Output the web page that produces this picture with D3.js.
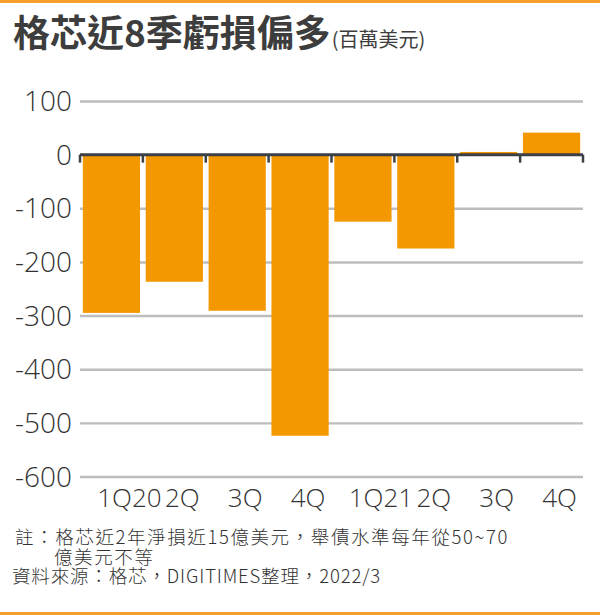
<!DOCTYPE html>
<html lang="zh-Hant">

<head>
    <meta charset="UTF-8">
    <title>格芯近8季虧損偏多</title>
    <script src="https://d3js.org/d3.v7.min.js"></script>
    <style>
        body { margin: 0; background: #fff; }
        svg { display: block; }
        .num { font-family: "Open Sans", Roboto, "Liberation Sans", sans-serif; font-weight: 300; fill: #333; }
        .cjk { font-family: "Noto Sans CJK TC", "Noto Sans", sans-serif; }
    </style>
</head>

<body>
    <div id="chart"></div>

    <script>
        // quarters and net income (million USD)
        const quarters = ["1Q20", "2Q", "3Q", "4Q", "1Q21", "2Q", "3Q", "4Q"];
        const netIncome = [-295, -237, -291, -524, -125, -175, 5, 41];
        const yTicks = [100, 0, -100, -200, -300, -400, -500, -600];
        const noteLines = [
            "註：格芯近2年淨損近15億美元，舉債水準每年從50~70",
            "億美元不等",
            "資料來源：格芯，DIGITIMES整理，2022/3"
        ];

        const W = 600, H = 615;
        const orange = "#f39800";

        const svg = d3.select("#chart").append("svg")
            .attr("width", W)
            .attr("height", H);

        // orange rules top and bottom
        svg.append("rect").attr("x", 0).attr("y", 0).attr("width", W).attr("height", 3).attr("fill", "#f5a02c");
        svg.append("rect").attr("x", 0).attr("y", 612).attr("width", W).attr("height", 3).attr("fill", "#f5a02c");

        // title
        const title = svg.append("text")
            .attr("class", "cjk")
            .attr("x", 13)
            .attr("y", 47)
            .attr("fill", "#3d3d3d");
        title.append("tspan")
            .attr("font-size", 37)
            .attr("font-weight", 700)
            .text("格芯近8季虧損偏多");
        title.append("tspan")
            .attr("font-size", 20)
            .attr("font-weight", 400)
            .attr("dx", 1)
            .text("(百萬美元)");

        const x = d3.scaleBand()
            .domain(d3.range(quarters.length))
            .range([80, 583])
            .paddingInner(0.09)
            .paddingOuter(0.045);

        const y = d3.scaleLinear()
            .domain([-600, 100])
            .range([476.5, 101]);

        // grid + y labels
        const yAxis = svg.append("g")
            .attr("transform", "translate(80,0)")
            .call(d3.axisLeft(y)
                .tickValues(yTicks)
                .tickSize(-(583 - 80))
                .tickPadding(8)
                .tickFormat(d3.format("d")));
        yAxis.select(".domain").remove();
        yAxis.selectAll(".tick line")
            .attr("stroke", "#bdbdbd")
            .attr("stroke-width", 2.4)
            .attr("display", d => d === 0 ? "none" : null);
        yAxis.selectAll(".tick text")
            .attr("class", "num")
            .attr("font-size", 28)
            .attr("dy", "0.34em")
            .text(d => d3.format("d")(d).replace("−", "-"));

        // bars
        svg.append("g")
            .selectAll("rect")
            .data(netIncome)
            .join("rect")
            .attr("x", (d, i) => x(i))
            .attr("y", d => y(Math.max(0, d)))
            .attr("width", x.bandwidth())
            .attr("height", d => Math.abs(y(d) - y(0)))
            .attr("fill", orange);

        // zero axis with boundary ticks
        const y0 = y(0);
        const axis0 = svg.append("g").attr("stroke", "#3c4046");
        axis0.append("line")
            .attr("x1", 80).attr("x2", 583)
            .attr("y1", y0).attr("y2", y0)
            .attr("stroke-width", 3);
        axis0.selectAll(".edge")
            .data(d3.range(quarters.length + 1))
            .join("line")
            .attr("class", "edge")
            .attr("x1", k => x.range()[0] + k * x.step())
            .attr("x2", k => x.range()[0] + k * x.step())
            .attr("y1", y0)
            .attr("y2", y0 + 8)
            .attr("stroke-width", 2.5);

        // quarter labels (year labels sit a bit further right, as in the source)
        svg.append("g")
            .selectAll("text")
            .data(quarters)
            .join("text")
            .attr("class", "num")
            .attr("font-size", 26)
            .attr("text-anchor", "middle")
            .attr("x", (d, i) => x(i) + x.bandwidth() / 2 + (d.length > 2 ? 18 : 8))
            .attr("y", 507)
            .text(d => d);

        // notes: second line indented under the text after "註："
        svg.append("g")
            .selectAll("text")
            .data(noteLines)
            .join("text")
            .attr("class", "cjk")
            .attr("font-size", 18.5)
            .attr("font-weight", 300)
            .attr("letter-spacing", (d, i) => i === 2 ? 0.85 : 1.6)
            .attr("fill", "#333")
            .attr("x", (d, i) => [15, 54, 12][i])
            .attr("y", (d, i) => [544, 564, 583][i])
            .text(d => d);
    </script>
</body>

</html>
